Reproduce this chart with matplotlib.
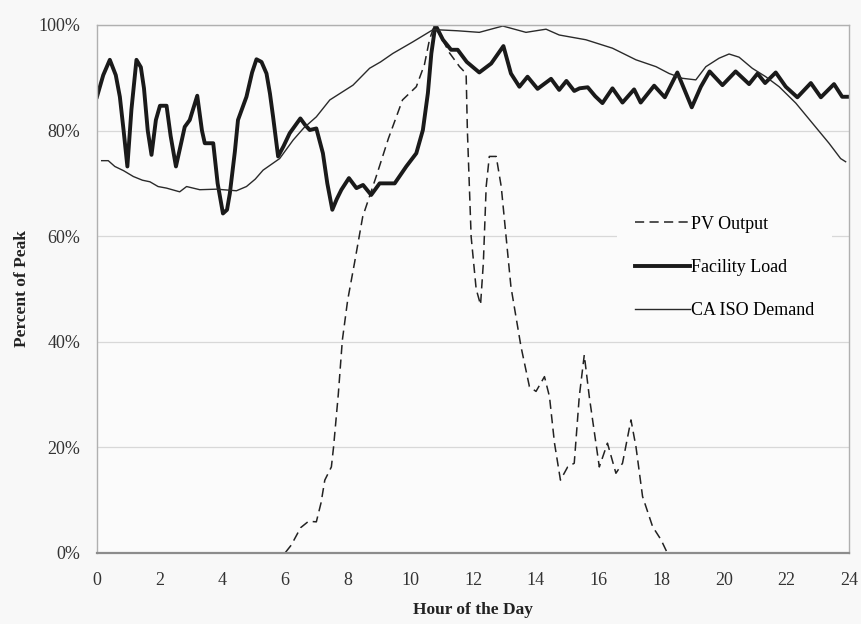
import numpy as np
import matplotlib
matplotlib.use("Agg")
import matplotlib.pyplot as plt
from matplotlib.ticker import PercentFormatter

# hour of day / percent of peak
pv_hours = [0, 6.0, 6.2, 6.5, 6.75, 7.0, 7.15, 7.27, 7.48, 7.55, 7.7, 7.83, 8.0, 8.22, 8.48,
            8.91, 9.3, 9.75, 10.19, 10.45, 10.61, 10.77, 11.0, 11.25, 11.57, 11.78, 11.82,
            11.94, 12.1, 12.24, 12.33, 12.42, 12.52, 12.74, 12.9, 13.21, 13.53, 13.8, 14.01,
            14.28, 14.44, 14.6, 14.79, 15.02, 15.23, 15.39, 15.55, 15.71, 16.03, 16.29, 16.56,
            16.77, 17.04, 17.2, 17.41, 17.73, 18.0, 18.2, 24]
pv_output = [0, 0, 1.5, 4.8, 6.0, 5.9, 9.5, 13.8, 16.3, 20.1, 30.0, 40.3, 47.9, 55.0, 63.7,
             71.3, 78.5, 85.8, 88.3, 92.5, 97.2, 100, 97.5, 94.7, 92.1, 90.8, 80.0,
             59.9, 50.0, 47.0, 55.0, 69.4, 75.1, 75.1, 69.4, 50.4, 39.1, 31.5, 30.6,
             33.4, 29.6, 20.8, 13.8, 16.3, 17.0, 29.6, 37.5, 29.6, 16.3, 20.8, 15.1,
             17.0, 25.2, 20.1, 10.7, 5.0, 2.5, 0.0, 0]

load_hours = [0.0, 0.2, 0.41, 0.6, 0.73, 0.85, 0.97, 1.1, 1.26, 1.4, 1.5, 1.62, 1.74, 1.88,
              2.01, 2.22, 2.35, 2.52, 2.7, 2.8, 2.96, 3.2, 3.35, 3.44, 3.71, 3.85, 4.02, 4.15,
              4.24, 4.4, 4.5, 4.77, 4.95, 5.09, 5.25, 5.41, 5.52, 5.62, 5.78, 5.95, 6.15, 6.49,
              6.65, 6.79, 7.0, 7.21, 7.35, 7.51, 7.65, 7.8, 8.04, 8.28, 8.49, 8.75, 9.02, 9.5,
              9.87, 10.19, 10.4, 10.56, 10.67, 10.8, 11.04, 11.3, 11.51, 11.8, 12.2, 12.58,
              12.97, 13.21, 13.48, 13.74, 14.06, 14.49, 14.75, 14.98, 15.23, 15.4, 15.66, 15.9,
              16.13, 16.45, 16.77, 17.14, 17.35, 17.78, 18.12, 18.52, 18.98, 19.27, 19.55,
              19.96, 20.38, 20.81, 21.08, 21.32, 21.66, 21.98, 22.35, 22.78, 23.1, 23.52,
              23.78, 24.0]
facility_load = [86.4, 90.5, 93.4, 90.5, 86.4, 80.0, 73.2, 84.0, 93.4, 92.0, 88.0, 80.0, 75.4, 82.0,
                 84.7, 84.7, 79.0, 73.2, 78.0, 80.7, 82.0, 86.6, 80.0, 77.6, 77.6, 70.0, 64.3, 65.0,
                 68.1, 76.0, 82.0, 86.4, 91.0, 93.5, 93.0, 90.8, 87.0, 82.6, 75.1, 77.0, 79.5, 82.3,
                 81.0, 80.1, 80.4, 75.7, 70.0, 65.0, 67.0, 68.8, 71.0, 69.1, 69.7, 67.8, 70.0, 70.0,
                 73.2, 75.7, 80.1, 87.1, 94.6, 100, 97.2, 95.3, 95.3, 93.0, 91.0, 92.7,
                 96.0, 90.8, 88.3, 90.2, 87.9, 89.8, 87.7, 89.4, 87.5, 88.0, 88.2, 86.5,
                 85.2, 88.0, 85.3, 87.8, 85.3, 88.5, 86.3, 91.0, 84.4, 88.3, 91.2,
                 88.6, 91.2, 88.8, 90.8, 89.0, 91.0, 88.3, 86.3, 89.0, 86.3, 88.8,
                 86.4, 86.4]

iso_hours = [0.15, 0.36, 0.57, 0.85, 1.16, 1.45, 1.69, 1.95, 2.22, 2.64, 2.86, 3.28, 3.81, 4.45,
             4.77, 5.05, 5.3, 5.83, 6.26, 6.6, 7.0, 7.43, 7.8, 8.17, 8.7, 9.05, 9.44, 10.08,
             10.72, 10.82, 11.5, 12.2, 12.95, 13.69, 14.33, 14.75, 15.6, 16.45, 17.2, 17.84,
             18.26, 18.68, 19.11, 19.43, 19.85, 20.17, 20.49, 20.91, 21.34, 21.77, 22.3,
             22.83, 23.36, 23.73, 23.89]
iso_demand = [74.3, 74.3, 73.2, 72.4, 71.3, 70.6, 70.3, 69.4, 69.1, 68.4, 69.4, 68.8, 68.9, 68.6,
              69.4, 70.8, 72.5, 74.7, 78.2, 80.5, 82.6, 85.8, 87.2, 88.6, 91.8, 93.0, 94.6, 96.8,
              99.1, 99.1, 98.9, 98.6, 99.8, 98.6, 99.2, 98.1, 97.2, 95.6, 93.4, 92.1,
              90.8, 89.9, 89.6, 92.1, 93.7, 94.5, 93.9, 91.8, 90.2, 88.3, 85.2,
              81.4, 77.6, 74.7, 74.1]

plt.rcParams['font.family'] = ['Liberation Serif', 'DejaVu Serif']

fig = plt.figure(figsize=(8.62, 6.24), dpi=100, facecolor='#f8f8f8')
ax = fig.add_axes([0.1125, 0.1138, 0.8725, 0.8462])
ax.set_facecolor('#fbfbfb')

ax.plot(pv_hours, pv_output, color='#222222', lw=1.1, ls=(0, (6, 3.5)), label='PV Output')
ax.plot(load_hours, facility_load, color='#1a1a1a', lw=2.8, solid_joinstyle='round',
        label='Facility Load')
ax.plot(iso_hours, iso_demand, color='#2a2a2a', lw=1.0, label='CA ISO Demand')

ax.set_xlim(0, 24)
ax.set_ylim(0, 100)
ax.set_xticks(range(0, 25, 2))
ax.set_yticks(range(0, 101, 20))
ax.yaxis.set_major_formatter(PercentFormatter(decimals=0))
ax.grid(axis='y', color='#d8d8d8', lw=0.9)
ax.set_axisbelow(True)
ax.tick_params(length=0, labelsize=13, colors='#333333')
ax.tick_params(axis='y', pad=12)
ax.tick_params(axis='x', pad=14)
for side in ['left', 'top', 'right']:
    ax.spines[side].set_color('#b0b0b0')
    ax.spines[side].set_linewidth(1.0)
ax.spines['bottom'].set_color('#8c8c8c')
ax.spines['bottom'].set_linewidth(1.6)

ax.set_xlabel('Hour of the Day', fontsize=12.5, fontweight='bold', color='#222222', labelpad=9)
ax.set_ylabel('Percent of Peak', fontsize=12.5, fontweight='bold', color='#222222', labelpad=6)

leg = ax.legend(loc='upper left', bbox_to_anchor=(0.68, 0.69), frameon=True, fontsize=13,
                handlelength=3.0, handletextpad=0.05, labelspacing=1.45, borderpad=1.0)
leg.get_frame().set_facecolor('#fbfbfb')
leg.get_frame().set_edgecolor('none')
leg.get_frame().set_alpha(1)
leg.get_frame().set_boxstyle('square', pad=0)

fig.savefig('out.png', dpi=100, facecolor=fig.get_facecolor())
